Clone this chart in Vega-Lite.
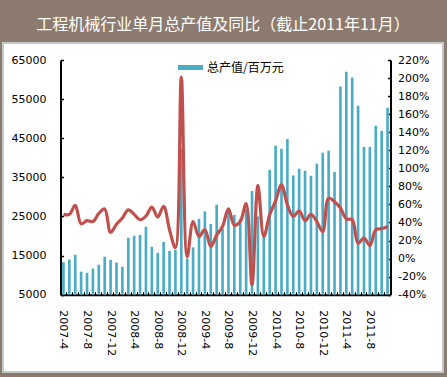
{
  "$schema": "https://vega.github.io/schema/vega-lite/v6.json",
  "width": 440,
  "height": 329,
  "autosize": {"type": "none"},
  "padding": {"left": 3, "top": 43, "right": 4, "bottom": 5},
  "background": "#8E7B6F",
  "view": {"fill": "#FFFFFF", "stroke": "#C4C8C8", "strokeWidth": 2},
  "title": {
    "text": "工程机械行业单月总产值及同比（截止2011年11月）",
    "color": "#FFFFFF",
    "font": "Noto Sans CJK SC",
    "fontSize": 16,
    "fontWeight": "normal",
    "anchor": "middle",
    "offset": 10
  },
  "data": {
    "values": [
      {"month": "2007-4", "value": 13300, "pct": 49},
      {"month": "2007-5", "value": 14000, "pct": 49},
      {"month": "2007-6", "value": 15200, "pct": 59},
      {"month": "2007-7", "value": 10900, "pct": 38.5},
      {"month": "2007-8", "value": 10600, "pct": 42},
      {"month": "2007-9", "value": 11700, "pct": 41},
      {"month": "2007-10", "value": 12650, "pct": 50},
      {"month": "2007-11", "value": 14700, "pct": 55},
      {"month": "2007-12", "value": 13900, "pct": 29},
      {"month": "2008-1", "value": 13200, "pct": 38},
      {"month": "2008-2", "value": 12150, "pct": 45},
      {"month": "2008-3", "value": 19550, "pct": 54},
      {"month": "2008-4", "value": 20060, "pct": 49},
      {"month": "2008-5", "value": 20300, "pct": 43},
      {"month": "2008-6", "value": 22360, "pct": 47},
      {"month": "2008-7", "value": 17250, "pct": 57},
      {"month": "2008-8", "value": 15700, "pct": 46},
      {"month": "2008-9", "value": 18500, "pct": 58},
      {"month": "2008-10", "value": 16200, "pct": 32},
      {"month": "2008-11", "value": 16500, "pct": 12},
      {"month": "2008-12", "value": 42300, "pct": 201},
      {"month": "2009-1", "value": 14200, "pct": 2},
      {"month": "2009-2", "value": 17100, "pct": 41},
      {"month": "2009-3", "value": 24400, "pct": 24.5},
      {"month": "2009-4", "value": 26300, "pct": 32},
      {"month": "2009-5", "value": 23100, "pct": 13.5},
      {"month": "2009-6", "value": 28000, "pct": 26},
      {"month": "2009-7", "value": 21800, "pct": 35.6},
      {"month": "2009-8", "value": 27000, "pct": 55},
      {"month": "2009-9", "value": 25400, "pct": 37},
      {"month": "2009-10", "value": 24400, "pct": 41},
      {"month": "2009-11", "value": 27000, "pct": 61},
      {"month": "2009-12", "value": 31500, "pct": -29},
      {"month": "2010-1", "value": 25000, "pct": 81},
      {"month": "2010-2", "value": 19900, "pct": 24.5},
      {"month": "2010-3", "value": 36900, "pct": 48.5},
      {"month": "2010-4", "value": 43100, "pct": 64},
      {"month": "2010-5", "value": 42300, "pct": 81.7},
      {"month": "2010-6", "value": 44800, "pct": 59.6},
      {"month": "2010-7", "value": 35500, "pct": 46.7},
      {"month": "2010-8", "value": 37200, "pct": 53},
      {"month": "2010-9", "value": 36700, "pct": 42},
      {"month": "2010-10", "value": 35400, "pct": 49},
      {"month": "2010-11", "value": 38500, "pct": 41},
      {"month": "2010-12", "value": 41300, "pct": 30},
      {"month": "2011-1", "value": 41800, "pct": 67},
      {"month": "2011-2", "value": 36400, "pct": 63},
      {"month": "2011-3", "value": 58200, "pct": 56},
      {"month": "2011-4", "value": 62000, "pct": 44},
      {"month": "2011-5", "value": 60500, "pct": 43},
      {"month": "2011-6", "value": 53300, "pct": 17},
      {"month": "2011-7", "value": 42800, "pct": 22.7},
      {"month": "2011-8", "value": 42800, "pct": 14.6},
      {"month": "2011-9", "value": 48200, "pct": 32},
      {"month": "2011-10", "value": 46900, "pct": 33},
      {"month": "2011-11", "value": 52800, "pct": 35.6}
    ]
  },
  "encoding": {
    "x": {
      "field": "month",
      "type": "ordinal",
      "sort": null,
      "scale": {"type": "band", "range": [57.5, 387.5], "paddingInner": 0.55, "paddingOuter": 0.275},
      "axis": {
        "orient": "bottom",
        "offset": -77.3,
        "title": null,
        "labelAngle": 90,
        "labelExpr": "toNumber(split(datum.value, '-')[1]) % 4 == 0 ? datum.value : ''",
        "labelOverlap": false,
        "bandPosition": -0.611,
        "domainColor": "#000000",
        "domainWidth": 2,
        "tickColor": "#000000",
        "tickWidth": 1,
        "tickSize": -3,
        "labelPadding": 18,
        "labelFont": "DejaVu Sans",
        "labelFontSize": 11,
        "labelColor": "#000000",
        "grid": false
      }
    }
  },
  "layer": [
    {
      "mark": {"type": "bar"},
      "encoding": {
        "y": {
          "field": "value",
          "type": "quantitative",
          "scale": {"domain": [5000, 65000], "range": [251.7, 17], "nice": false, "zero": false},
          "axis": {
            "orient": "left",
            "offset": -57.5,
            "title": null,
            "values": [5000, 15000, 25000, 35000, 45000, 55000, 65000],
            "format": "d",
            "grid": false,
            "domainColor": "#000000",
            "domainWidth": 2,
            "tickColor": "#000000",
            "tickWidth": 1.5,
            "tickSize": -3,
            "labelPadding": 17.5,
            "labelFont": "DejaVu Sans",
            "labelFontSize": 11,
            "labelColor": "#000000"
          }
        },
        "y2": {"datum": 5000},
        "color": {
          "datum": "总产值/百万元",
          "type": "nominal",
          "scale": {"range": ["#4BACC6"]},
          "legend": {
            "orient": "none",
            "legendX": 175,
            "legendY": 12,
            "title": null,
            "symbolType": "M-1,-0.2H1V0.2H-1Z",
            "symbolSize": 625,
            "symbolStrokeWidth": 0,
            "labelFont": "Noto Sans CJK SC",
            "labelFontSize": 12,
            "labelColor": "#000000",
            "labelOffset": 4,
            "padding": 0
          }
        }
      }
    },
    {
      "mark": {"type": "line", "color": "#C0504D", "strokeWidth": 3.2, "interpolate": "catmull-rom"},
      "encoding": {
        "y": {
          "field": "pct",
          "type": "quantitative",
          "scale": {"domain": [-40, 220], "range": [251.7, 17], "nice": false, "zero": false},
          "axis": {
            "orient": "right",
            "offset": -52.5,
            "title": null,
            "values": [-40, -20, 0, 20, 40, 60, 80, 100, 120, 140, 160, 180, 200, 220],
            "labelExpr": "datum.value + '%'",
            "grid": false,
            "domainColor": "#000000",
            "domainWidth": 2,
            "tickColor": "#000000",
            "tickWidth": 1.5,
            "tickSize": -3,
            "labelPadding": 10,
            "labelFont": "DejaVu Sans",
            "labelFontSize": 11,
            "labelColor": "#000000"
          }
        }
      }
    }
  ],
  "resolve": {"scale": {"y": "independent"}}
}
